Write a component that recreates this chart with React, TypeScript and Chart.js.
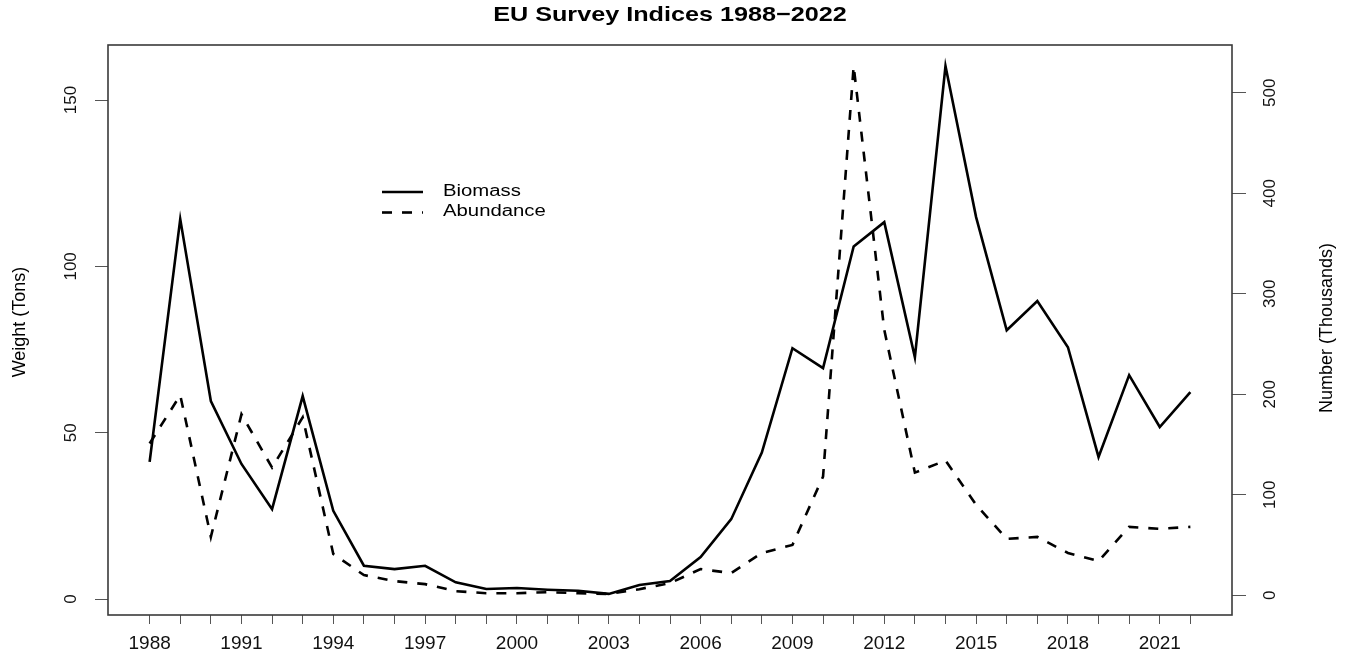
import { useEffect, useRef } from 'react';
import { Chart, registerables } from 'chart.js';

Chart.register(...registerables);

const years = [
  1988, 1989, 1990, 1991, 1992, 1993, 1994, 1995, 1996, 1997, 1998, 1999,
  2000, 2001, 2002, 2003, 2004, 2005, 2006, 2007, 2008, 2009, 2010, 2011,
  2012, 2013, 2014, 2015, 2016, 2017, 2018, 2019, 2020, 2021, 2022,
];

// Weight (Tons), left axis
const biomass = [
  41.2, 114.2, 59.5, 40.6, 27.0, 61.0, 26.5, 10.0, 9.0, 10.0, 5.0, 3.0,
  3.3, 2.8, 2.5, 1.54, 4.2, 5.4, 12.6, 24.0, 44.0, 75.4, 69.4, 106.0,
  113.3, 72.7, 160.2, 114.8, 80.8, 89.6, 75.7, 42.7, 67.3, 51.7, 62.2,
];

// Number (Thousands), right axis
const abundance = [
  151, 199, 58, 180, 127, 177, 41, 20, 14, 11, 4, 2,
  2, 3, 2, 1.3, 6, 12, 26, 22, 42, 50, 118, 526.5,
  264, 122, 134, 90, 56, 58, 42, 34, 68, 66, 68,
];

const xLabelYears = [1988, 1991, 1994, 1997, 2000, 2003, 2006, 2009, 2012, 2015, 2018, 2021];
const leftTicks = [0, 50, 100, 150];
const rightTicks = [0, 100, 200, 300, 400, 500];

const chartTitle = 'EU Survey Indices 1988\u22122022';
const leftTitle = 'Weight (Tons)';
const rightTitle = 'Number (Thousands)';
const seriesNames = ['Biomass', 'Abundance'];

const FONT = '"Liberation Sans", Arial, Helvetica, sans-serif';

function extRange(arr: number[]): [number, number] {
  const lo = Math.min(...arr);
  const hi = Math.max(...arr);
  const d = (hi - lo) * 0.04;
  return [lo - d, hi + d];
}

function drawText(
  ctx: CanvasRenderingContext2D,
  text: string,
  x: number,
  y: number,
  font: string,
  sx: number,
  align: CanvasTextAlign,
  rot: number,
) {
  ctx.save();
  ctx.translate(x, y);
  if (rot) ctx.rotate(rot);
  ctx.scale(sx, 1);
  ctx.font = font;
  ctx.textAlign = align;
  ctx.textBaseline = 'middle';
  ctx.fillStyle = '#000';
  ctx.fillText(text, 0, 0);
  ctx.restore();
}

const decorPlugin = {
  id: 'decor',
  afterDraw(chart: any) {
    const { ctx, chartArea: a } = chart;
    ctx.save();
    // box
    ctx.strokeStyle = '#3a3a3a';
    ctx.lineWidth = 1.6;
    ctx.strokeRect(a.left, a.top, a.right - a.left, a.bottom - a.top);

    // title
    drawText(ctx, chartTitle, (a.left + a.right) / 2, 15, `bold 21px ${FONT}`, 1.2, 'center', 0);

    // axis titles
    drawText(ctx, leftTitle, 20, 322, `18px ${FONT}`, 1, 'center', -Math.PI / 2);
    drawText(ctx, rightTitle, 1327, 328, `18px ${FONT}`, 1, 'center', -Math.PI / 2);

    // legend
    ctx.strokeStyle = '#000';
    ctx.lineWidth = 2.6;
    ctx.setLineDash([]);
    ctx.beginPath();
    ctx.moveTo(382, 192);
    ctx.lineTo(423, 192);
    ctx.stroke();
    ctx.setLineDash([10, 10]);
    ctx.beginPath();
    ctx.moveTo(382, 212.5);
    ctx.lineTo(423, 212.5);
    ctx.stroke();
    ctx.setLineDash([]);
    drawText(ctx, seriesNames[0], 443, 192, `16px ${FONT}`, 1.27, 'left', 0);
    drawText(ctx, seriesNames[1], 443, 212, `16px ${FONT}`, 1.27, 'left', 0);
    ctx.restore();
  },
};

export default function App() {
  const ref = useRef<HTMLCanvasElement | null>(null);

  useEffect(() => {
    if (!ref.current) return;
    const [xMin, xMax] = extRange(years);
    const [yMin, yMax] = extRange(biomass);
    const [y1Min, y1Max] = extRange(abundance);

    const chart = new Chart(ref.current, {
      type: 'line',
      data: {
        datasets: [
          {
            label: seriesNames[0],
            data: years.map((yr, i) => ({ x: yr, y: biomass[i] })),
            borderColor: '#000',
            borderWidth: 2.6,
            pointRadius: 0,
            tension: 0,
            yAxisID: 'y',
          },
          {
            label: seriesNames[1],
            data: years.map((yr, i) => ({ x: yr, y: abundance[i] })),
            borderColor: '#000',
            borderWidth: 2.6,
            borderDash: [10, 10],
            pointRadius: 0,
            tension: 0,
            yAxisID: 'y1',
          },
        ],
      },
      options: {
        animation: false,
        responsive: false,
        events: [],
        layout: { padding: { top: 45, left: 0, right: 0, bottom: 0 } },
        plugins: {
          legend: { display: false },
          tooltip: { enabled: false },
          title: { display: false },
        },
        scales: {
          x: {
            type: 'linear',
            position: 'bottom',
            min: xMin,
            max: xMax,
            afterBuildTicks: (s: any) => {
              s.ticks = years.map((v) => ({ value: v }));
            },
            afterFit: (s: any) => {
              s.height = 45;
            },
            border: { display: false },
            grid: { drawOnChartArea: false, drawTicks: true, tickLength: 9, color: '#555', lineWidth: 1 },
            ticks: {
              autoSkip: false,
              maxRotation: 0,
              minRotation: 0,
              padding: 8,
              color: '#111',
              font: { family: FONT, size: 19 },
              callback: (v: any) => (xLabelYears.includes(Number(v)) ? String(v) : ''),
            },
          },
          y: {
            type: 'linear',
            position: 'left',
            min: yMin,
            max: yMax,
            afterBuildTicks: (s: any) => {
              s.ticks = leftTicks.map((v) => ({ value: v }));
            },
            afterFit: (s: any) => {
              s.width = 108;
            },
            border: { display: false },
            grid: { drawOnChartArea: false, drawTicks: true, tickLength: 13, color: '#555', lineWidth: 1 },
            ticks: {
              autoSkip: false,
              minRotation: 90,
              maxRotation: 90,
              crossAlign: 'center',
              padding: 10,
              color: '#111',
              font: { family: FONT, size: 17 },
              callback: (v: any) => String(v),
            },
          },
          y1: {
            type: 'linear',
            position: 'right',
            min: y1Min,
            max: y1Max,
            afterBuildTicks: (s: any) => {
              s.ticks = rightTicks.map((v) => ({ value: v }));
            },
            afterFit: (s: any) => {
              s.width = 115;
            },
            border: { display: false },
            grid: { drawOnChartArea: false, drawTicks: true, tickLength: 14, color: '#555', lineWidth: 1 },
            ticks: {
              autoSkip: false,
              minRotation: 90,
              maxRotation: 90,
              crossAlign: 'center',
              padding: 10,
              color: '#111',
              font: { family: FONT, size: 17 },
              callback: (v: any) => String(v),
            },
          },
        },
      },
      plugins: [decorPlugin],
    } as any);

    return () => chart.destroy();
  }, []);

  return (
    <div style={{ position: 'absolute', left: 0, top: 0, width: 1347, height: 660, background: '#fff' }}>
      <canvas ref={ref} width={1347} height={660} style={{ display: 'block' }} />
    </div>
  );
}
